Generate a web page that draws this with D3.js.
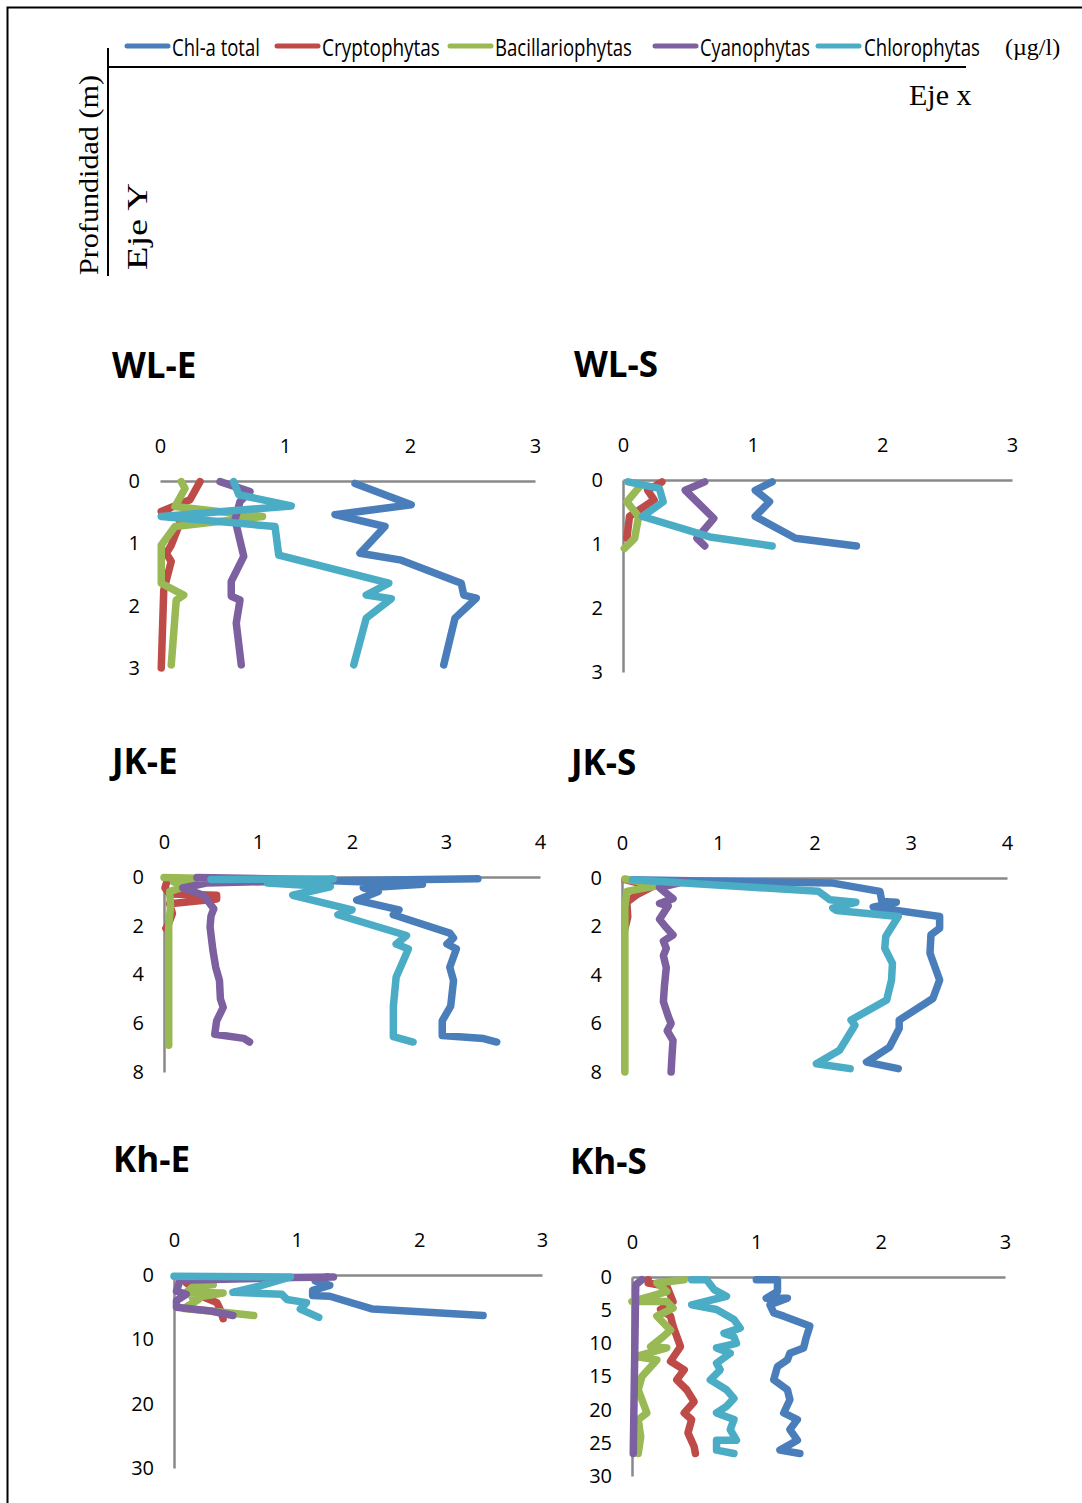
<!DOCTYPE html>
<html>
<head>
<meta charset="utf-8">
<script src="https://cdn.jsdelivr.net/npm/d3@7"></script>
<style>
  body { margin: 0; background: #fff; }
  svg { display: block; }
</style>
</head>
<body>
<svg width="1082" height="1503"></svg>
<script>
// series
const seriesNames = ['Chl-a total', 'Cryptophytas', 'Bacillariophytas', 'Cyanophytas', 'Chlorophytas'];
const seriesColors = ['#4a7ebb', '#be4b48', '#98b954', '#7d60a0', '#4bacc6'];

// profiles: [value (µg/l), depth (m)]
// WL-E
const wleChl = [[1.56,0.04],[2.01,0.38],[1.40,0.54],[1.80,0.73],[1.60,1.16],[1.93,1.27],[2.41,1.64],[2.43,1.83],[2.53,1.88],[2.36,2.2],[2.27,2.95]];
const wleCrypto = [[0.32,0.01],[0.24,0.30],[0.01,0.49],[0.17,0.62],[0.09,1.03],[0.05,1.16],[0.09,1.29],[0.03,1.75],[0.01,3.0]];
const wleBacil = [[0.17,0.01],[0.20,0.12],[0.12,0.41],[0.82,0.57],[0.12,0.73],[0.01,1.03],[0.01,1.64],[0.19,1.83],[0.13,1.91],[0.09,2.95]];
const wleCyano = [[0.48,0.01],[0.72,0.17],[0.64,0.33],[0.60,0.62],[0.67,1.21],[0.57,1.61],[0.57,1.85],[0.64,1.91],[0.61,2.28],[0.65,2.95]];
const wleChloro = [[0.59,0.01],[0.63,0.22],[1.05,0.40],[0.01,0.57],[0.92,0.73],[0.95,1.19],[1.83,1.64],[1.65,1.83],[1.85,1.89],[1.65,2.2],[1.55,2.95]];

// WL-S
const wlsChl = [[1.15,0.03],[1.02,0.16],[1.13,0.34],[1.02,0.57],[1.33,0.91],[1.80,1.03]];
const wlsCrypto = [[0.30,0.03],[0.19,0.16],[0.24,0.31],[0.05,0.57],[0.03,0.91]];
const wlsBacil = [[0.13,0.10],[0.03,0.34],[0.12,0.57],[0.09,0.91],[0.01,1.07]];
const wlsCyano = [[0.63,0.03],[0.48,0.16],[0.70,0.60],[0.57,0.91],[0.63,1.03]];
const wlsChloro = [[0.04,0.03],[0.28,0.13],[0.31,0.34],[0.15,0.57],[0.67,0.89],[1.15,1.03]];

// JK-E
const jkeChl = [[3.34,0.07],[1.80,0.15],[2.75,0.3],[2.12,0.45],[2.28,0.6],[2.05,0.95],[2.50,1.35],[2.44,1.55],[3.04,2.3],[3.08,2.5],[3.01,2.75],[3.11,2.95],[3.04,3.7],[3.08,4.25],[3.05,5.3],[2.96,5.9],[2.96,6.5],[3.40,6.63],[3.54,6.77]];
const jkeCrypto = [[0.03,0.2],[0.01,0.45],[0.06,0.7],[0.56,0.75],[0.56,0.9],[0.06,1.1],[0.09,1.5],[0.04,2.0],[0.02,2.1]];
const jkeBacil = [[0.0,0.02],[0.35,0.05],[0.10,0.2],[0.25,0.35],[0.06,0.6],[0.07,1.2],[0.05,2.0],[0.05,4.0],[0.05,6.9]];
const jkeCyano = [[0.35,0.02],[1.80,0.12],[0.45,0.25],[0.20,0.45],[0.42,0.75],[0.53,1.3],[0.50,1.6],[0.49,2.05],[0.52,3.0],[0.55,3.7],[0.59,4.25],[0.60,5.0],[0.63,5.35],[0.56,5.9],[0.54,6.45],[0.85,6.62],[0.91,6.77]];
const jkeChloro = [[0.50,0.1],[1.80,0.08],[1.10,0.25],[1.77,0.4],[1.37,0.75],[2.00,1.35],[1.85,1.55],[2.58,2.4],[2.47,2.75],[2.60,2.95],[2.47,4.1],[2.44,5.3],[2.44,6.55],[2.65,6.77]];

// JK-S
const jksChl = [[0.10,0.07],[2.19,0.21],[2.68,0.55],[2.70,0.97],[2.85,1.0],[2.61,1.2],[3.30,1.59],[3.30,2.07],[3.21,2.34],[3.20,3.1],[3.30,4.21],[3.23,4.97],[2.88,5.86],[2.88,6.21],[2.78,6.97],[2.54,7.59],[2.87,7.86]];
const jksCrypto = [[0.03,0.07],[0.32,0.35],[0.15,0.7],[0.05,1.0],[0.06,1.6],[0.03,2.1]];
const jksBacil = [[0.03,0.04],[0.39,0.3],[0.05,0.55],[0.03,1.2],[0.03,8.0]];
const jksCyano = [[0.65,0.15],[0.39,0.4],[0.45,0.6],[0.53,0.85],[0.39,1.05],[0.48,1.15],[0.39,1.7],[0.45,2.0],[0.53,2.35],[0.43,2.6],[0.46,2.9],[0.43,3.2],[0.46,3.7],[0.44,4.5],[0.43,5.1],[0.48,5.7],[0.51,6.0],[0.47,6.3],[0.53,6.7],[0.52,7.3],[0.51,8.0]];
const jksChloro = [[0.11,0.07],[2.04,0.55],[2.16,0.9],[2.43,1.0],[2.19,1.24],[2.23,1.34],[2.87,1.59],[2.74,2.41],[2.73,2.9],[2.81,3.52],[2.80,4.21],[2.75,5.03],[2.38,5.86],[2.42,6.07],[2.26,7.1],[2.02,7.66],[2.37,7.86]];

// Kh-E
const kheChl = [[1.25,0.3],[1.15,0.9],[1.27,1.6],[1.13,2.4],[1.13,3.2],[1.27,3.3],[1.62,5.3],[2.52,6.3]];
const kheCrypto = [[0.10,1.2],[0.18,2.4],[0.25,3.5],[0.35,4.3],[0.38,5.5],[0.40,6.8]];
const kheBacil = [[0.20,1.2],[0.32,1.5],[0.15,1.9],[0.10,2.7],[0.40,2.8],[0.15,3.6],[0.20,3.8],[0.08,5.2],[0.40,5.8],[0.65,6.3]];
const kheCyano = [[1.30,0.3],[0.97,0.4],[0.05,0.8],[0.02,2.5],[0.10,3.0],[0.02,4.0],[0.02,5.0],[0.30,5.6],[0.48,6.3]];
const kheChloro = [[0.0,0.2],[0.95,0.3],[0.70,1.7],[0.48,2.7],[0.88,3.0],[0.92,3.8],[1.08,4.3],[1.03,5.3],[1.18,6.6]];

// Kh-S
const khsChl = [[1.0,0.4],[1.17,0.4],[1.17,2.2],[1.08,3.2],[1.25,3.2],[1.11,4.2],[1.14,5.4],[1.22,5.9],[1.43,7.4],[1.40,9.2],[1.38,10.7],[1.27,11.5],[1.25,12.5],[1.17,13.5],[1.14,15.5],[1.25,17.0],[1.27,18.5],[1.22,20.5],[1.33,21.5],[1.27,23.0],[1.33,24.6],[1.19,26.1],[1.35,26.6]];
const khsCrypto = [[0.13,0.4],[0.13,0.9],[0.28,1.4],[0.33,3.7],[0.23,4.9],[0.31,5.9],[0.33,7.4],[0.39,10.5],[0.31,12.7],[0.42,14.0],[0.36,15.5],[0.44,17.0],[0.50,18.8],[0.42,20.5],[0.48,21.5],[0.45,23.5],[0.50,25.6],[0.51,26.6]];
const khsBacil = [[0.42,0.4],[0.20,0.9],[0.28,2.2],[0.0,3.7],[0.28,3.7],[0.33,4.7],[0.20,5.9],[0.31,8.0],[0.25,9.0],[0.15,10.5],[0.28,10.7],[0.03,12.0],[0.20,12.5],[0.08,15.0],[0.05,17.0],[0.08,18.5],[0.12,20.5],[0.05,21.5],[0.07,24.1],[0.05,26.6]];
const khsCyano = [[0.08,0.4],[0.03,1.2],[0.01,26.6]];
const khsChloro = [[0.48,0.4],[0.60,0.4],[0.66,1.9],[0.76,2.9],[0.48,4.2],[0.68,4.9],[0.82,6.4],[0.87,7.7],[0.74,8.5],[0.82,9.0],[0.84,10.0],[0.68,10.7],[0.79,11.5],[0.68,13.0],[0.71,14.0],[0.63,15.5],[0.76,17.0],[0.82,18.3],[0.76,19.5],[0.68,20.5],[0.82,21.5],[0.79,23.0],[0.84,24.6],[0.68,24.6],[0.68,26.1],[0.82,26.6]];

// tick labels
const xTicks3 = [0, 1, 2, 3];
const xTicks4 = [0, 1, 2, 3, 4];
const yTicksWL = [0, 1, 2, 3];
const yTicksJK = [0, 2, 4, 6, 8];
const yTicksKhE = [0, 10, 20, 30];
const yTicksKhS = [0, 5, 10, 15, 20, 25, 30];

const panels = [
  { name: 'WL-E', xTicks: xTicks3, yTicks: yTicksWL, series: [wleChl, wleCrypto, wleBacil, wleCyano, wleChloro], x0: 160, x1: 535, y0: 481, y1: 668, tx: 112, yAxis: false },
  { name: 'WL-S', xTicks: xTicks3, yTicks: yTicksWL, series: [wlsChl, wlsCrypto, wlsBacil, wlsCyano, wlsChloro], x0: 623, x1: 1012, y0: 480, y1: 672, tx: 574, yAxis: true },
  { name: 'JK-E', xTicks: xTicks4, yTicks: yTicksJK, series: [jkeChl, jkeCrypto, jkeBacil, jkeCyano, jkeChloro], x0: 164, x1: 540, y0: 877, y1: 1072, tx: 112, yAxis: true },
  { name: 'JK-S', xTicks: xTicks4, yTicks: yTicksJK, series: [jksChl, jksCrypto, jksBacil, jksCyano, jksChloro], x0: 622, x1: 1007, y0: 878, y1: 1072, tx: 571, yAxis: true },
  { name: 'Kh-E', xTicks: xTicks3, yTicks: yTicksKhE, series: [kheChl, kheCrypto, kheBacil, kheCyano, kheChloro], x0: 174, x1: 542, y0: 1275, y1: 1468, tx: 113, yAxis: true },
  { name: 'Kh-S', xTicks: xTicks3, yTicks: yTicksKhS, series: [khsChl, khsCrypto, khsBacil, khsCyano, khsChloro], x0: 632, x1: 1005, y0: 1277, y1: 1476, tx: 570, yAxis: true }
];

const svg = d3.select('svg');

// marco
svg.append('path')
  .attr('d', 'M7.5,1503 L7.5,7.5 L1082,7.5')
  .attr('fill', 'none')
  .attr('stroke', '#000')
  .attr('stroke-width', 2);

// texto comprimido a un ancho dado (fuente estrecha)
function squeezed(parent, x, y, width, txt, font, size, rotate) {
  const t = parent.append('text')
    .attr('font-family', font)
    .attr('font-size', size)
    .attr('fill', '#000')
    .text(txt);
  const natural = t.node().getComputedTextLength();
  const sx = width / natural;
  t.attr('transform', `translate(${x},${y})${rotate ? ' rotate(-90)' : ''} scale(${sx},1)`);
  return t;
}

// leyenda
const legendLine = [127, 277, 450, 655, 818];
const legendText = [[172, 88], [322, 118], [495, 137], [700, 110], [864, 116]];
const legend = svg.append('g');
seriesNames.forEach((name, i) => {
  legend.append('line')
    .attr('x1', legendLine[i]).attr('x2', legendLine[i] + 41)
    .attr('y1', 46).attr('y2', 46)
    .attr('stroke', seriesColors[i])
    .attr('stroke-width', 5)
    .attr('stroke-linecap', 'round');
  squeezed(legend, legendText[i][0], 56, legendText[i][1], name, 'Open Sans, sans-serif', 24, false);
});
legend.append('text')
  .attr('x', 1005).attr('y', 55)
  .attr('font-family', 'Liberation Serif, serif')
  .attr('font-size', 24)
  .text('(µg/l)');

// esquema de ejes
svg.append('line').attr('x1', 108).attr('x2', 966).attr('y1', 67).attr('y2', 67)
  .attr('stroke', '#000').attr('stroke-width', 2);
svg.append('line').attr('x1', 108).attr('x2', 108).attr('y1', 48).attr('y2', 276)
  .attr('stroke', '#000').attr('stroke-width', 2);
svg.append('text')
  .attr('x', 909).attr('y', 105)
  .attr('font-family', 'Liberation Serif, serif')
  .attr('font-size', 30)
  .text('Eje x');
squeezed(svg, 98, 275, 200, 'Profundidad  (m)', 'Liberation Serif, serif', 28, true);
squeezed(svg, 147, 270, 87, 'Eje  Y', 'Liberation Serif, serif', 30, true);

// paneles
panels.forEach((p) => {
  const x = d3.scaleLinear().domain([0, d3.max(p.xTicks)]).range([p.x0, p.x1]);
  const y = d3.scaleLinear().domain([0, d3.max(p.yTicks)]).range([p.y0, p.y1]);
  const g = svg.append('g');

  g.append('text')
    .attr('x', p.tx).attr('y', p.y0 - 103)
    .attr('font-family', 'Open Sans, sans-serif')
    .attr('font-weight', 'bold')
    .attr('font-size', 35)
    .text(p.name);

  // eje x arriba
  const xAxis = g.append('g')
    .attr('transform', `translate(0,${p.y0})`)
    .call(d3.axisTop(x).tickValues(p.xTicks).tickSize(0).tickPadding(28).tickFormat(d3.format('d')));
  xAxis.select('.domain').attr('stroke', '#898989').attr('stroke-width', 2.5);
  xAxis.selectAll('text')
    .attr('font-family', 'Open Sans, sans-serif').attr('font-size', 20).attr('fill', '#000');

  // eje y
  const yAxis = g.append('g')
    .attr('transform', `translate(${p.x0},0)`)
    .call(d3.axisLeft(y).tickValues(p.yTicks).tickSize(0).tickPadding(20).tickFormat(d3.format('d')));
  yAxis.select('.domain')
    .attr('stroke', p.yAxis ? '#898989' : 'none')
    .attr('stroke-width', 2.5);
  yAxis.selectAll('text')
    .attr('font-family', 'Open Sans, sans-serif').attr('font-size', 20).attr('fill', '#000');

  const line = d3.line()
    .x((d) => x(d[0]))
    .y((d) => y(d[1]));

  p.series.forEach((s, i) => {
    g.append('path')
      .datum(s)
      .attr('fill', 'none')
      .attr('stroke', seriesColors[i])
      .attr('stroke-width', 7.5)
      .attr('stroke-linejoin', 'round')
      .attr('stroke-linecap', 'round')
      .attr('d', line);
  });
});
</script>
</body>
</html>
